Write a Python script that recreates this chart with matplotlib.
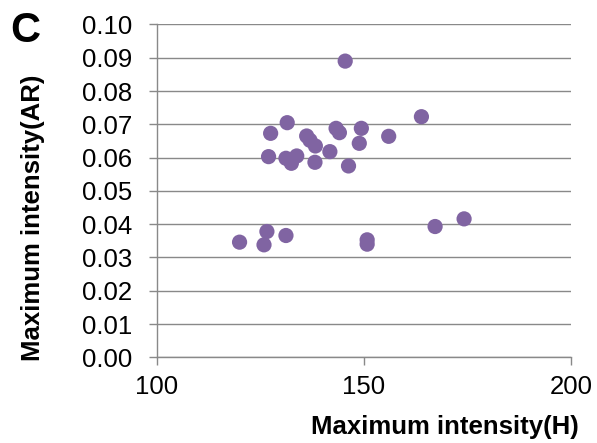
import matplotlib
matplotlib.use("Agg")
import matplotlib.pyplot as plt

# Maximum intensity (H) vs Maximum intensity (AR)
intensity_h = [145.5, 163.9, 131.5, 127.5, 127.0, 132.5, 133.8, 131.2, 136.2,
               137.0, 138.3, 138.2, 141.8, 143.3, 144.1, 149.4, 148.9, 146.3,
               156.0, 174.2, 167.2, 150.8, 150.8, 120.0, 126.6, 125.9, 131.2]
intensity_ar = [0.0890, 0.0723, 0.0705, 0.0673, 0.0603, 0.0583, 0.0605, 0.0598, 0.0665,
                0.0652, 0.0635, 0.0586, 0.0618, 0.0688, 0.0675, 0.0688, 0.0643, 0.0575,
                0.0664, 0.0416, 0.0393, 0.0353, 0.0340, 0.0346, 0.0378, 0.0338, 0.0366]
x_ticks = [100, 150, 200]
y_ticks = [i / 100 for i in range(11)]

grey = "#898989"
purple = "#8064A2"
plt.rcParams['font.family'] = ['Liberation Sans', 'DejaVu Sans']

fig = plt.figure(figsize=(5.97, 4.43), dpi=100, facecolor='white')
ax = fig.add_axes([0.2625, 0.1934, 0.9564 - 0.2625, 0.9447 - 0.1934])

ax.scatter(intensity_h, intensity_ar, s=120, color=purple, edgecolors='none', zorder=3)

ax.set_xlim(100, 200)
ax.set_ylim(0, 0.10)
ax.set_xticks(x_ticks)
ax.set_yticks(y_ticks)
ax.set_yticklabels(["%.2f" % v for v in y_ticks])
ax.grid(axis='y', color=grey, linewidth=1.0, zorder=0)
ax.set_axisbelow(True)

for side in ['top', 'right']:
    ax.spines[side].set_visible(False)
for side in ['left', 'bottom']:
    ax.spines[side].set_color(grey)
    ax.spines[side].set_linewidth(1.0)

ax.tick_params(axis='y', direction='out', length=6, width=1.0, color=grey,
               pad=11.5, labelsize=18.5)
ax.tick_params(axis='x', direction='out', length=6, width=1.0, color=grey,
               pad=6.5, labelsize=18.5)

fig.text(445 / 597, 1 - 427 / 443, "Maximum intensity(H)", fontsize=18.5,
         fontweight='bold', ha='center', va='center')
fig.text(33.5 / 597, 1 - 217.5 / 443, "Maximum intensity(AR)", fontsize=18.5,
         fontweight='bold', ha='center', va='center', rotation=90)
fig.text(25.5 / 597, 1 - 31 / 443, "C", fontsize=30, fontweight='bold',
         ha='center', va='center')

fig.savefig("out.png", dpi=100)
